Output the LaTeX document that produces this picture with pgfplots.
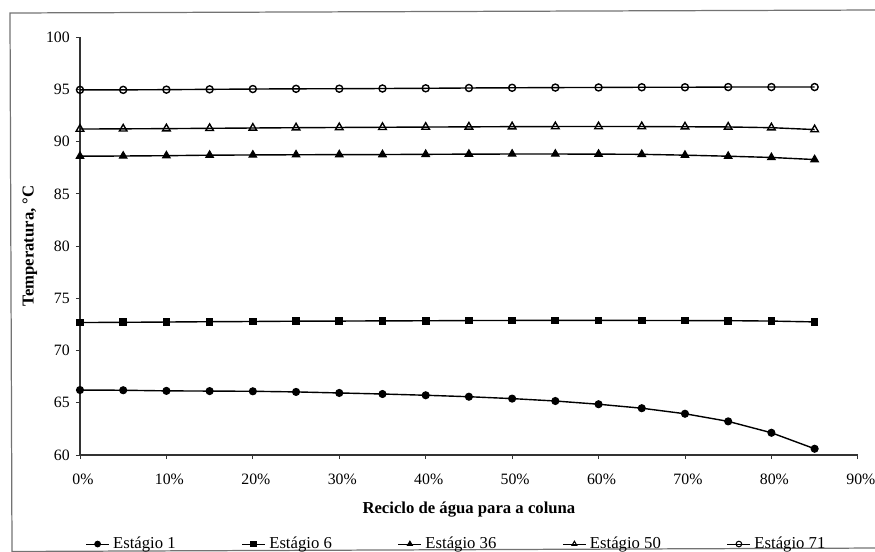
\documentclass[border=0pt]{standalone}
\usepackage{pgfplots}
\pgfplotsset{compat=1.18}
\usepackage{pgfplotstable}
\usepackage{fontspec}
\setmainfont{Liberation Serif}

% Temperature profile of selected stages versus water recycle fraction (%)
\pgfplotstableread{
x   e1     e6     e36    e50    e71
0   66.22  72.68  88.60  91.20  94.95
5   66.20  72.70  88.62  91.22  94.95
10  66.14  72.73  88.65  91.24  94.97
15  66.12  72.76  88.70  91.27  95.00
20  66.10  72.78  88.72  91.30  95.03
25  66.04  72.81  88.74  91.33  95.05
30  65.94  72.82  88.75  91.35  95.06
35  65.84  72.84  88.76  91.37  95.08
40  65.72  72.85  88.78  91.39  95.10
45  65.58  72.87  88.80  91.41  95.13
50  65.40  72.88  88.81  91.43  95.15
55  65.17  72.88  88.81  91.44  95.17
60  64.86  72.88  88.80  91.44  95.18
65  64.48  72.88  88.78  91.44  95.20
70  63.95  72.87  88.70  91.42  95.20
75  63.22  72.86  88.60  91.40  95.22
80  62.13  72.82  88.48  91.33  95.22
85  60.60  72.74  88.28  91.15  95.22
}\temps

\begin{document}
\begin{tikzpicture}[x=0.02cm,y=0.02cm]
\useasboundingbox (0,0) rectangle (875,551);
% outer chart frame
\draw[black!55, line width=0.7pt] (12,-0.5) -- (10,538) -- (882,541) -- (882,3) -- cycle;
\begin{axis}[
  at={(1.6cm,1.92cm)}, anchor=south west,
  scale only axis, width=15.56cm, height=8.36cm,
  xmin=0, xmax=90, ymin=60, ymax=100,
  axis x line=bottom, axis y line=left,
  axis line style={black!80, line width=0.6pt, -},
  xtick={0,10,...,90},
  xticklabels={0\%,10\%,20\%,30\%,40\%,50\%,60\%,70\%,80\%,90\%},
  ytick={60,65,...,100},
  tick align=outside, major tick length=0.08cm,
  tick style={black!80, line width=0.5pt},
  /pgf/number format/assume math mode=true,
  tick label style={font=\fontsize{9}{10}\selectfont},
  xticklabel style={yshift=-0.18cm, xshift=0.06cm},
  xlabel={Reciclo de água para a coluna},
  ylabel={Temperatura, °C},
  xlabel style={font=\fontsize{9.5}{11}\bfseries, at={(axis description cs:0.5,-0.1316)}, anchor=center},
  ylabel style={font=\fontsize{9.5}{11}\bfseries, at={(axis description cs:-0.0643,0.5)}, anchor=center},
  clip=false,
  every axis plot/.append style={black, line width=0.8pt, mark options={solid, line width=0.6pt}},
  legend columns=-1,
  legend style={draw=none, fill=none, at={(axis description cs:0.485,-0.213)}, anchor=center,
    font=\fontsize{9.5}{11}\selectfont,
    /tikz/every even column/.append style={column sep=1.25cm},
    nodes={inner sep=2pt}},
  legend image code/.code={
    \draw[mark repeat=2, mark phase=2, #1, line width=0.6pt, mark size=1.6pt]
      plot coordinates {(0cm,0cm) (0.23cm,0cm) (0.46cm,0cm)};},
]
\addplot[mark=*, mark size=2pt] table[x=x, y=e1] {\temps};
\addlegendentry{Estágio 1}
\addplot[mark=square*, mark size=1.9pt] table[x=x, y=e6] {\temps};
\addlegendentry{Estágio 6}
\addplot[mark=triangle*, mark size=2.5pt] table[x=x, y=e36] {\temps};
\addlegendentry{Estágio 36}
\addplot[mark=triangle, mark size=2.5pt, mark options={fill=white}] table[x=x, y=e50] {\temps};
\addlegendentry{Estágio 50}
\addplot[mark=o, mark size=2pt, mark options={fill=white}] table[x=x, y=e71] {\temps};
\addlegendentry{Estágio 71}
\end{axis}
\end{tikzpicture}
\end{document}
